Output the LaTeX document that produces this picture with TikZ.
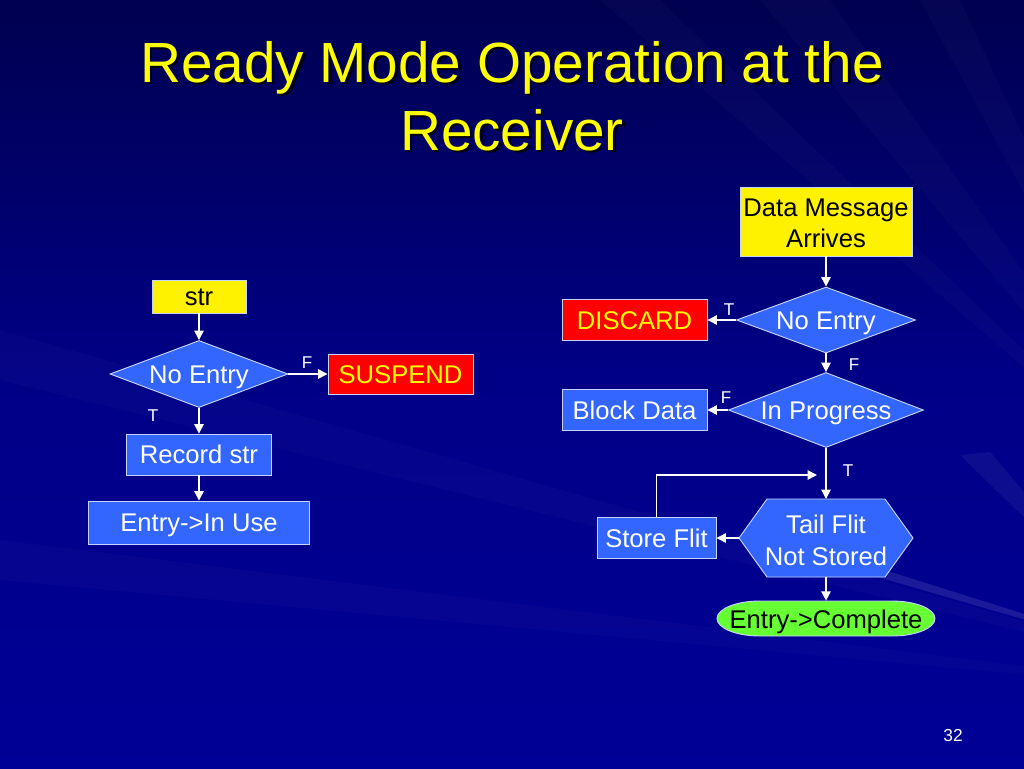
\documentclass[tikz,border=0pt]{standalone}
\usepackage{fontspec}
\setmainfont{Liberation Sans}
\usetikzlibrary{shapes.geometric,arrows.meta}
\definecolor{bgdark}{RGB}{0,0,80}
\definecolor{bgmid}{RGB}{0,0,135}
\definecolor{bglow}{RGB}{0,0,150}
\definecolor{boxblue}{RGB}{51,102,255}
\definecolor{edgecol}{RGB}{200,212,255}
\definecolor{pillgreen}{RGB}{102,255,51}
\definecolor{titleyellow}{RGB}{255,255,0}
\begin{document}
\begin{tikzpicture}[x=0.75pt,y=-0.75pt,
  basetxt/.style={font=\fontsize{19.2}{23.5}\selectfont},
  boxtxt/.style={basetxt,text height=13.75pt,text depth=0pt},
  procbox/.style={boxtxt,draw=edgecol,line width=0.7pt,fill=boxblue,text=white,inner sep=0pt,align=center},
  startbox/.style={boxtxt,draw=edgecol,line width=0.7pt,fill=yellow,text=black,inner sep=0pt,align=center},
  stopbox/.style={boxtxt,draw=edgecol,line width=0.7pt,fill=red,text=titleyellow,inner sep=0pt,align=center},
  decision/.style={boxtxt,shape=diamond,draw=edgecol,line width=0.7pt,fill=boxblue,text=white,inner sep=0pt},
  ghost/.style={boxtxt,inner sep=0pt,align=center},
  flowarrow/.style={draw=white,line width=1pt,-{Triangle[length=7pt,width=7pt]}},
  tflabel/.style={font=\fontsize{12.8}{14}\selectfont,text=white,inner sep=0pt},
  titletxt/.style={font=\fontsize{42.5}{48}\selectfont,inner sep=0pt,anchor=base}
]
% background
\useasboundingbox (0,0) rectangle (1024,768);
\shade[shading angle=15,top color=bgdark,bottom color=bglow,middle color=bgmid] (0,0) rectangle (1024,768);
% faint light streaks
\fill[white,opacity=0.10] (1250,685) -- (840,556) -- (840,566) -- cycle;
\fill[white,opacity=0.05] (1150,640) -- (960,455) -- (990,452) -- cycle;
\fill[white,opacity=0.02] (1200,520) -- (600,0) -- (660,0) -- cycle;
\fill[white,opacity=0.02] (1200,520) -- (760,0) -- (830,0) -- cycle;
\fill[white,opacity=0.02] (1200,520) -- (920,0) -- (960,0) -- cycle;
\fill[white,opacity=0.02] (1300,700) -- (0,540) -- (0,580) -- cycle;
\fill[white,opacity=0.02] (1300,700) -- (0,330) -- (0,380) -- cycle;

% title
\node[titletxt,text=black!85!bgdark] at (514.5,84.5) {Ready Mode Operation at the};
\node[titletxt,text=black!85!bgdark] at (514.5,152.5) {Receiver};
\node[titletxt,text=titleyellow] (title1) at (512,82) {Ready Mode Operation at the};
\node[titletxt,text=titleyellow] (title2) at (512,150) {Receiver};

% left flowchart
\node[startbox,minimum width=94*0.75pt,minimum height=33*0.75pt] (str) at (199,296.5) {str};
\node[decision,minimum width=178*0.75pt,minimum height=67*0.75pt,aspect=2.66] (ne1) at (199,374) {No Entry};
\node[stopbox,minimum width=145*0.75pt,minimum height=40*0.75pt] (susp) at (400.5,374) {SUSPEND};
\node[procbox,minimum width=145*0.75pt,minimum height=41*0.75pt] (rec) at (199,454.5) {Record str};
\node[procbox,minimum width=221*0.75pt,minimum height=43*0.75pt] (use) at (199,522.5) {Entry-{}>In Use};

\draw[flowarrow] (str.south) -- (ne1.north);
\draw[flowarrow] (ne1.east) -- (susp.west);
\draw[flowarrow] (ne1.south) -- (rec.north);
\draw[flowarrow] (rec.south) -- (use.north);
\node[tflabel] (lf1) at (307,363) {F};
\node[tflabel] (lt1) at (153,416) {T};

% right flowchart
\draw[draw=edgecol,line width=0.7pt,fill=yellow] (740,187) rectangle (912,256);
\node[basetxt,text=black,inner sep=0pt,align=center,minimum width=172*0.75pt] (dma) at (826,223.5) {Data Message\\Arrives};
\coordinate (dmabot) at (826,256);
\node[decision,minimum width=179*0.75pt,minimum height=66*0.75pt,aspect=2.71] (ne2) at (826,320) {No Entry};
\node[stopbox,minimum width=145*0.75pt,minimum height=41*0.75pt] (disc) at (634.5,320) {DISCARD};
\node[decision,minimum width=195*0.75pt,minimum height=75*0.75pt,aspect=2.6] (ip) at (826,410) {In Progress};
\node[procbox,minimum width=145*0.75pt,minimum height=41*0.75pt] (blk) at (634.5,410) {Block Data};

% hexagon decision
\draw[draw=edgecol,line width=0.7pt,fill=boxblue] (739,538) -- (767,499) -- (885,499) -- (913,538) -- (885,577) -- (767,577) -- cycle;
\node[font=\fontsize{19.2}{24}\selectfont,inner sep=0pt,align=center,text=white] (tail) at (826,540) {Tail Flit\\Not Stored};
\coordinate (tailN) at (826,499);
\coordinate (tailS) at (826,577);
\coordinate (tailW) at (739,538);
\node[procbox,minimum width=119*0.75pt,minimum height=41*0.75pt] (store) at (656.5,538) {Store Flit};

% terminator pill
\draw[draw=edgecol,line width=0.7pt,fill=pillgreen] (760,601) -- (892,601)
  arc[start angle=-90,end angle=90,x radius=43,y radius=17.5] -- (760,636)
  arc[start angle=90,end angle=270,x radius=43,y radius=17.5] -- cycle;
\node[ghost,text=black,minimum width=218*0.75pt,minimum height=35*0.75pt] (comp) at (826,619) {Entry-{}>Complete};

\coordinate (loopend) at (817,475);

\draw[flowarrow] (dmabot) -- (ne2.north);
\draw[flowarrow] (ne2.west) -- (disc.east);
\draw[flowarrow] (ne2.south) -- (ip.north);
\draw[flowarrow] (ip.west) -- (blk.east);
\draw[flowarrow] (ip.south) -- (tailN);
\draw[flowarrow] (tailW) -- (store.east);
\draw[flowarrow] (tailS) -- ([yshift=0.4pt]comp.north);
\draw[flowarrow] (store.north) |- (loopend);

\node[tflabel] (rt1) at (729,310) {T};
\node[tflabel] (rf1) at (854,365) {F};
\node[tflabel] (rf2) at (726,398) {F};
\node[tflabel] (rt2) at (848,471) {T};

% page number
\node[font=\fontsize{13}{15}\selectfont,text=white,inner sep=0pt] (page) at (953,736) {32};
\end{tikzpicture}
\end{document}
